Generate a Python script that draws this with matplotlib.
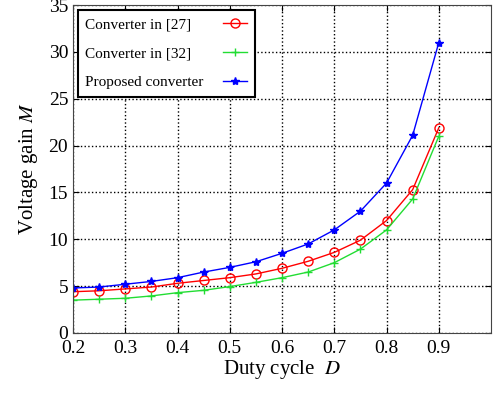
import matplotlib
matplotlib.use("Agg")
import matplotlib.pyplot as plt

duty = [0.2, 0.25, 0.3, 0.35, 0.4, 0.45, 0.5, 0.55, 0.6, 0.65, 0.7, 0.75, 0.8, 0.85, 0.9]
gain_27 = [4.4, 4.5, 4.7, 4.9, 5.3, 5.6, 5.9, 6.3, 6.9, 7.65, 8.6, 9.9, 12.0, 15.3, 21.9]
gain_32 = [3.5, 3.6, 3.7, 3.95, 4.3, 4.55, 4.95, 5.4, 5.9, 6.5, 7.5, 8.95, 11.0, 14.3, 21.0]
gain_prop = [4.8, 4.9, 5.2, 5.5, 5.9, 6.5, 7.0, 7.6, 8.5, 9.5, 11.0, 13.0, 16.0, 21.1, 31.0]

plt.rcParams['font.family'] = ['Liberation Serif', 'DejaVu Serif']
plt.rcParams['mathtext.fontset'] = 'stix'

fig = plt.figure(figsize=(4.97, 3.94), dpi=100)
ax = fig.add_axes([0.147, 0.155, 0.841, 0.832])

ax.plot(duty, gain_27, color='red', marker='o', markersize=6.5, markerfacecolor='none',
        linewidth=1, label='Converter in [27]')
ax.plot(duty, gain_32, color='#22dd33', marker='+', markersize=6,
        linewidth=1, label='Converter in [32]')
ax.plot(duty, gain_prop, color='blue', marker='*', markersize=6,
        linewidth=1, label='Proposed converter')

ax.set_xlim(0.2, 1.0)
ax.set_ylim(0, 35)
ax.set_xticks([0.2, 0.3, 0.4, 0.5, 0.6, 0.7, 0.8, 0.9])
ax.set_xticklabels(['0.2', '0.3', '0.4', '0.5', '0.6', '0.7', '0.8', '0.9'])
ax.set_yticks(range(0, 36, 5))
ax.tick_params(direction='in', labelsize=14, length=4, top=True, right=True)
ax.tick_params(axis='x', pad=5)
ax.grid(True, linestyle=':', color='black', linewidth=1)

ax.set_xlabel('Duty cycle  $D$', fontsize=15, labelpad=1)
ax.set_ylabel('Voltage gain $M$', fontsize=15, labelpad=6)

for s in ax.spines.values():
    s.set_color('#444444')

leg = ax.legend(loc='upper left', markerfirst=False, fontsize=11, fancybox=False,
                framealpha=1, edgecolor='black', borderaxespad=0.3, labelspacing=1.0,
                handlelength=1.6, borderpad=0.5)
leg.get_frame().set_linewidth(1.5)
# text left, marker right, as in the original
col = leg._legend_handle_box.get_children()[0]
col.align = 'left'
for item in col.get_children():
    item.mode = 'expand'
    item.width = 162

fig.savefig('out.png', dpi=100)
